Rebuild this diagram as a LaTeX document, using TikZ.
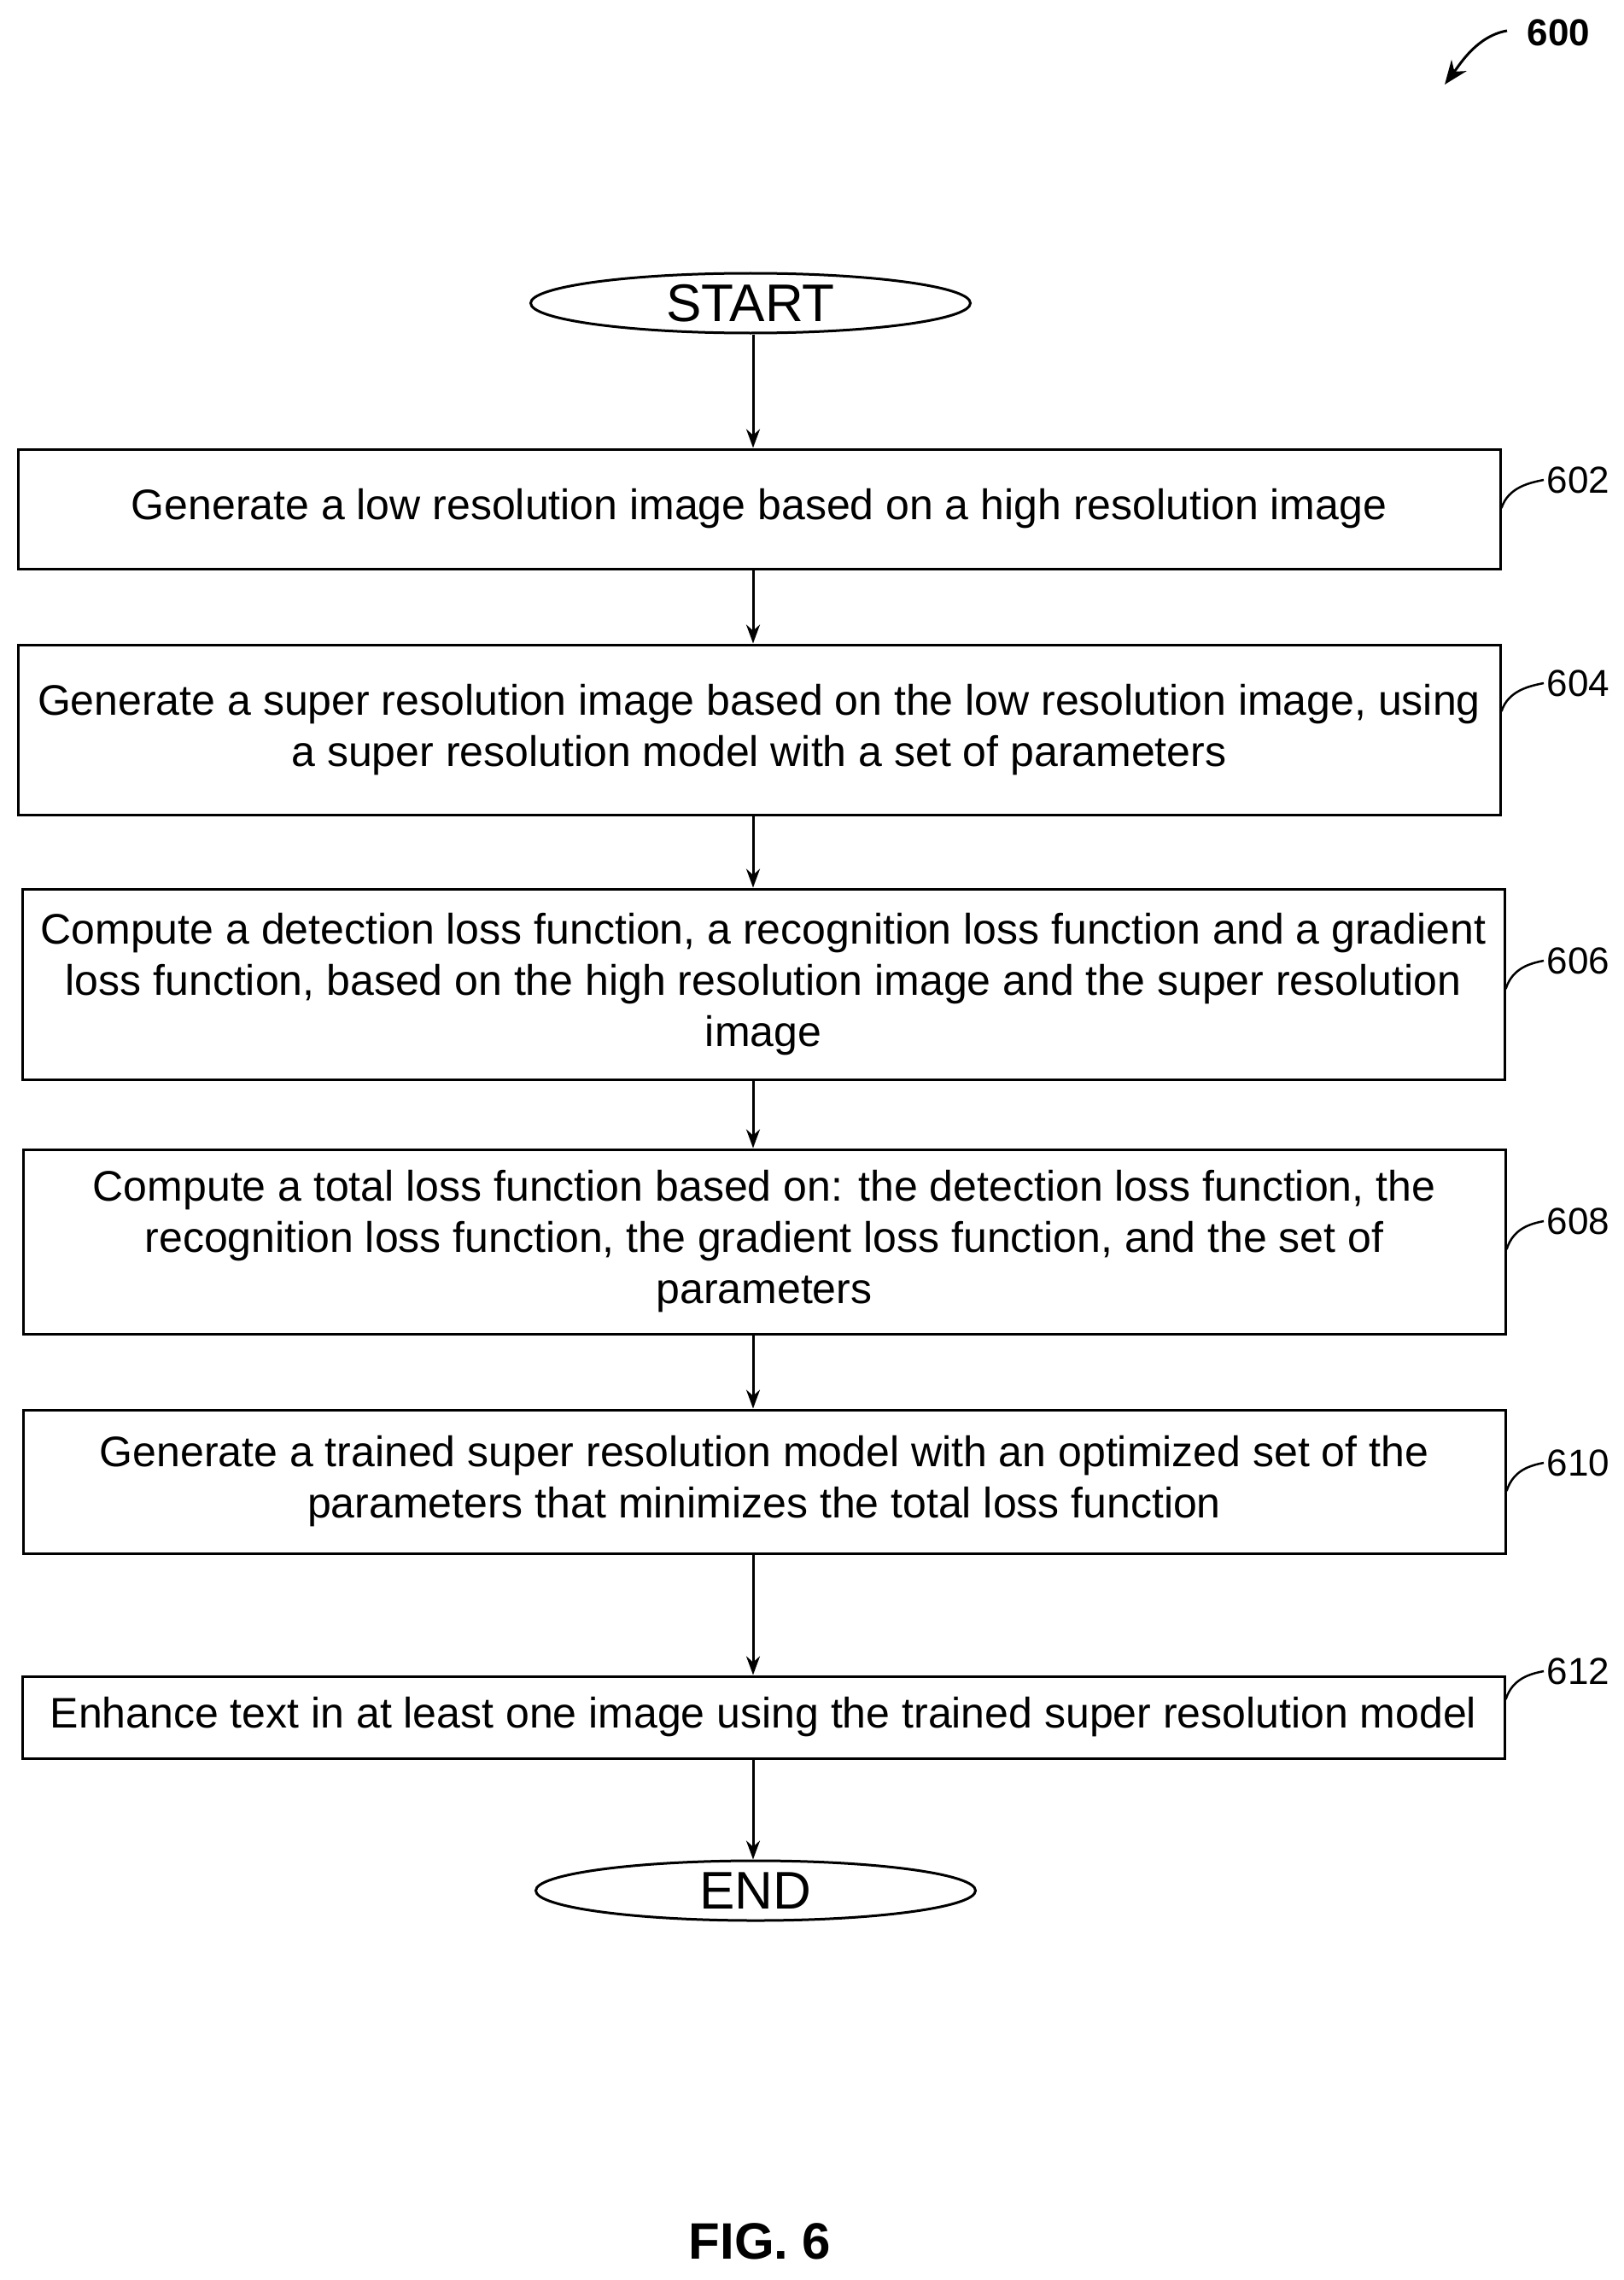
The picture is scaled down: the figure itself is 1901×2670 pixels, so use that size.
\documentclass[tikz,border=0pt]{standalone}
\usepackage{fontspec}
\setmainfont{Liberation Sans}
\usetikzlibrary{shapes.geometric,arrows.meta}
\begin{document}
\begin{tikzpicture}[x=1pt,y=-1pt,
  box/.style={draw,line width=3pt,inner sep=0pt},
  txt/.style={font=\fontsize{50}{60}\selectfont,align=center},
  term/.style={draw,ellipse,line width=3pt,minimum width=515pt,minimum height=70pt,inner sep=0pt,font=\fontsize{62}{62}\selectfont},
  arr/.style={line width=3pt,-{Stealth[length=22pt,width=16pt]}},
  lbl/.style={font=\fontsize{44}{44}\selectfont,anchor=west},
  lead/.style={line width=2.5pt}]
\useasboundingbox (0,0) rectangle (1901,2670);
\coordinate (ax) at (882,0);
\node[term] (start) at (879,355) {START};
\node[box,minimum width=1736pt,minimum height=140pt] (b602) at (889,596) {};
\node[txt] at (b602) {Generate a low resolution image based on a high resolution image};
\node[box,minimum width=1736pt,minimum height=199pt] (b604) at (889,854.5) {};
\node[txt] at (b604) {Generate a super resolution image based on the low resolution image, using\\a super resolution model with a set of parameters};
\node[box,minimum width=1736pt,minimum height=223pt] (b606) at (894,1152.5) {};
\node[txt] at (b606) {Compute a detection loss function, a recognition loss function and a gradient\\loss function, based on the high resolution image and the super resolution\\image};
\node[box,minimum width=1736pt,minimum height=216pt] (b608) at (895,1454) {};
\node[txt] at (b608) {Compute a total loss function based on: the detection loss function, the\\recognition loss function, the gradient loss function, and the set of\\parameters};
\node[box,minimum width=1736pt,minimum height=168pt] (b610) at (895,1735) {};
\node[txt] at (b610) {Generate a trained super resolution model with an optimized set of the\\parameters that minimizes the total loss function};
\node[box,minimum width=1736pt,minimum height=96pt] (b612) at (894,2011) {};
\node[txt] at (b612) {Enhance text in at least one image using the trained super resolution model};
\node[term] (end) at (885,2214) {END};
\foreach \a/\b in {start/b602,b602/b604,b604/b606,b606/b608,b608/b610,b610/b612,b612/end}
  \draw[arr] (\a.south -| ax) -- (\b.north -| ax);
\foreach \b/\n/\y in {b602/602/562,b604/604/800,b606/606/1125,b608/608/1430,b610/610/1713,b612/612/1957}{
  \node[lbl] (l\n) at (1808,\y) {\n};
  \draw[lead] ([yshift=-8pt]\b.east |- l\n.west) ++(0,25) .. controls +(8,-25) and +(-15,3) .. (l\n.west);
}
\node[lbl] (l600) at (1785,38) {\textbf{600}};
\coordinate (a600) at (1692,99);
\draw[line width=3pt,-{Stealth[length=28pt,width=22pt]}] (1765,36) .. controls (1730,42) and (1710,75) .. (a600);
\node[font=\bfseries\fontsize{60}{60}\selectfont] (fig) at (890,2625) {FIG. 6};
\end{tikzpicture}
\end{document}
